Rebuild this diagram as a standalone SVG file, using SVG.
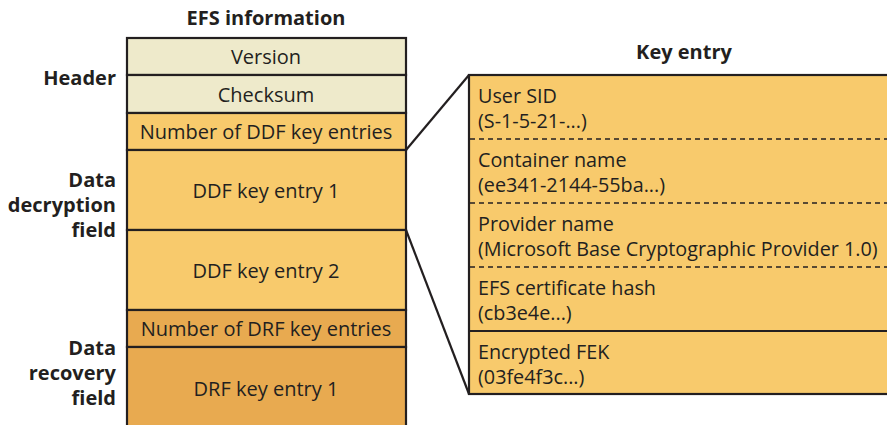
<svg xmlns="http://www.w3.org/2000/svg" width="887" height="425" viewBox="0 0 887 425">
<style>
text{font-family:"Open Sans","Noto Sans","Liberation Sans",sans-serif;fill:#231f20;}
.t{font-size:20px;text-anchor:middle;}
.r{font-size:19.8px;}
.b{font-size:20px;font-weight:bold;}
.lab{font-size:20px;font-weight:bold;text-anchor:end;}
.cell{stroke:#231f20;stroke-width:2.2;}
.hdr{fill:#EEEACB;}
.ddf{fill:#F8CA6C;}
.drf{fill:#E8AA50;}
.dash{stroke:#231f20;stroke-width:1.6;stroke-dasharray:5 4;fill:none;}
.conn{stroke:#231f20;stroke-width:2.2;fill:none;}
</style>
<rect width="887" height="425" fill="#fff"/>
<text class="b" x="266" y="25" text-anchor="middle">EFS information</text>
<text class="b" x="684" y="59" text-anchor="middle">Key entry</text>
<g id="labels">
<text class="lab" x="116" y="85">Header</text>
<text class="lab" x="116" y="187"><tspan x="116">Data</tspan><tspan x="116" dy="25">decryption</tspan><tspan x="116" dy="25">field</tspan></text>
<text class="lab" x="116" y="355"><tspan x="116">Data</tspan><tspan x="116" dy="25">recovery</tspan><tspan x="116" dy="25">field</tspan></text>
</g>
<g id="efs">
<g id="version"><rect class="cell hdr" x="127" y="38" width="279" height="37"/><text class="t" x="266" y="64">Version</text></g>
<g id="checksum"><rect class="cell hdr" x="127" y="75" width="279" height="38"/><text class="t" x="266" y="102">Checksum</text></g>
<g id="numddf"><rect class="cell ddf" x="127" y="113" width="279" height="37"/><text class="t" x="266" y="139">Number of DDF key entries</text></g>
<g id="ddf1"><rect class="cell ddf" x="127" y="150" width="279" height="80"/><text class="t" x="266" y="198">DDF key entry 1</text></g>
<g id="ddf2"><rect class="cell ddf" x="127" y="230" width="279" height="80"/><text class="t" x="266" y="278">DDF key entry 2</text></g>
<g id="numdrf"><rect class="cell drf" x="127" y="310" width="279" height="37"/><text class="t" x="266" y="336">Number of DRF key entries</text></g>
<g id="drf1"><rect class="cell drf" x="127" y="347" width="279" height="90"/><text class="t" x="266" y="396">DRF key entry 1</text></g>
</g>
<g id="connectors">
<line class="conn" x1="406" y1="150" x2="469" y2="75"/>
<line class="conn" x1="406" y1="230" x2="469" y2="394"/>
</g>
<g id="keyentry">
<rect class="cell ddf" x="469" y="75" width="430" height="319"/>
<line class="dash" x1="470" y1="139" x2="887" y2="139"/>
<line class="dash" x1="470" y1="203" x2="887" y2="203"/>
<line class="dash" x1="470" y1="267" x2="887" y2="267"/>
<line class="cell" x1="469" y1="331" x2="887" y2="331"/>
<g id="sid"><text class="r" x="478" y="103">User SID</text><text class="r" x="478" y="128">(S-1-5-21-...)</text></g>
<g id="container"><text class="r" x="478" y="167">Container name</text><text class="r" x="478" y="192">(ee341-2144-55ba...)</text></g>
<g id="provider"><text class="r" x="478" y="231">Provider name</text><text class="r" x="478" y="256">(Microsoft Base Cryptographic Provider 1.0)</text></g>
<g id="hash"><text class="r" x="478" y="295">EFS certificate hash</text><text class="r" x="478" y="320">(cb3e4e...)</text></g>
<g id="fek"><text class="r" x="478" y="359">Encrypted FEK</text><text class="r" x="478" y="384">(03fe4f3c...)</text></g>
</g>
</svg>
